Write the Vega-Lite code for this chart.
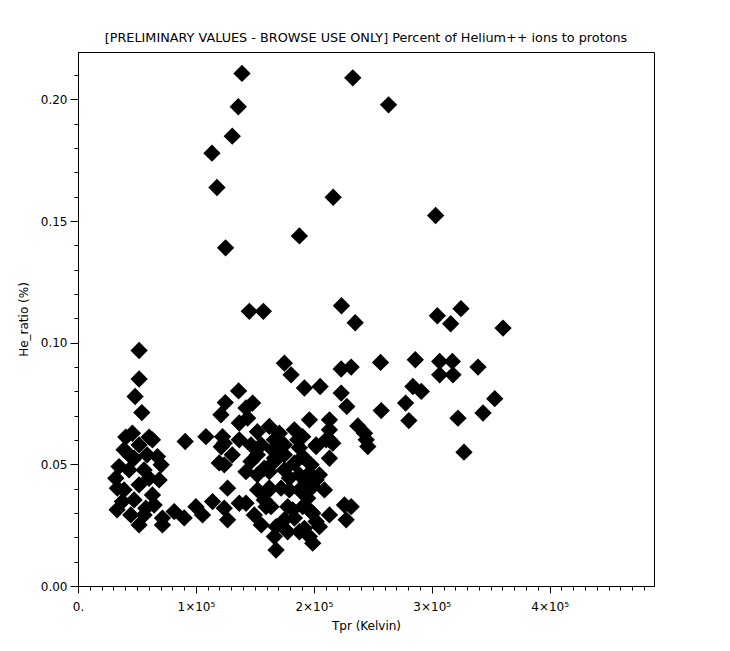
{
  "$schema": "https://vega.github.io/schema/vega-lite/v6.json",
  "width": 576,
  "height": 534,
  "autosize": {"type": "none"},
  "padding": {"left": 78, "top": 52, "right": 76, "bottom": 65},
  "background": "white",
  "config": {"view": {"stroke": "black", "strokeWidth": 1}, "font": "DejaVu Sans"},
  "title": {"text": "[PRELIMINARY VALUES - BROWSE USE ONLY] Percent of Helium++ ions to protons", "fontSize": 12.8, "fontWeight": "normal", "color": "black", "font": "DejaVu Sans", "anchor": "middle", "offset": 7},
  "data": {"values": [
    {"Tpr":139080,"He_ratio":0.2107},{"Tpr":233050,"He_ratio":0.2089},{"Tpr":135940,"He_ratio":0.1970},{"Tpr":263380,"He_ratio":0.1978},
    {"Tpr":130840,"He_ratio":0.1849},{"Tpr":113590,"He_ratio":0.1779},{"Tpr":117840,"He_ratio":0.1638},{"Tpr":216390,"He_ratio":0.1598},
    {"Tpr":187760,"He_ratio":0.1439},{"Tpr":125150,"He_ratio":0.1390},{"Tpr":303310,"He_ratio":0.1523},{"Tpr":145280,"He_ratio":0.1129},
    {"Tpr":157180,"He_ratio":0.1129},{"Tpr":223440,"He_ratio":0.1152},{"Tpr":235080,"He_ratio":0.1082},{"Tpr":304750,"He_ratio":0.1111},
    {"Tpr":324810,"He_ratio":0.1140},{"Tpr":316050,"He_ratio":0.1078},{"Tpr":360490,"He_ratio":0.1060},{"Tpr":51830,"He_ratio":0.0968},
    {"Tpr":51830,"He_ratio":0.0851},{"Tpr":48430,"He_ratio":0.0779},{"Tpr":54120,"He_ratio":0.0713},{"Tpr":175020,"He_ratio":0.0916},
    {"Tpr":180710,"He_ratio":0.0868},{"Tpr":192010,"He_ratio":0.0814},{"Tpr":205350,"He_ratio":0.0820},{"Tpr":223190,"He_ratio":0.0892},
    {"Tpr":231690,"He_ratio":0.0900},{"Tpr":256580,"He_ratio":0.0919},{"Tpr":286060,"He_ratio":0.0930},{"Tpr":306710,"He_ratio":0.0923},
    {"Tpr":317500,"He_ratio":0.0923},{"Tpr":306710,"He_ratio":0.0868},{"Tpr":318010,"He_ratio":0.0868},{"Tpr":339240,"He_ratio":0.0900},
    {"Tpr":284020,"He_ratio":0.0820},{"Tpr":291160,"He_ratio":0.0800},{"Tpr":223190,"He_ratio":0.0793},{"Tpr":227950,"He_ratio":0.0738},
    {"Tpr":257170,"He_ratio":0.0721},{"Tpr":277820,"He_ratio":0.0752},{"Tpr":280620,"He_ratio":0.0680},{"Tpr":322250,"He_ratio":0.0690},
    {"Tpr":343490,"He_ratio":0.0711},{"Tpr":353430,"He_ratio":0.0770},{"Tpr":327350,"He_ratio":0.0550},{"Tpr":136190,"He_ratio":0.0802},
    {"Tpr":148080,"He_ratio":0.0752},{"Tpr":124890,"He_ratio":0.0754},{"Tpr":121240,"He_ratio":0.0704},{"Tpr":142480,"He_ratio":0.0732},
    {"Tpr":136790,"He_ratio":0.0670},{"Tpr":143840,"He_ratio":0.0690},{"Tpr":162270,"He_ratio":0.0656},{"Tpr":196260,"He_ratio":0.0683},
    {"Tpr":213250,"He_ratio":0.0683},{"Tpr":213250,"He_ratio":0.0642},{"Tpr":210450,"He_ratio":0.0601},{"Tpr":216060,"He_ratio":0.0587},
    {"Tpr":201950,"He_ratio":0.0573},{"Tpr":213250,"He_ratio":0.0525},{"Tpr":237300,"He_ratio":0.0658},{"Tpr":242990,"He_ratio":0.0628},
    {"Tpr":244430,"He_ratio":0.0601},{"Tpr":245790,"He_ratio":0.0573},{"Tpr":183510,"He_ratio":0.0642},{"Tpr":190560,"He_ratio":0.0614},
    {"Tpr":170770,"He_ratio":0.0628},{"Tpr":166520,"He_ratio":0.0601},{"Tpr":165080,"He_ratio":0.0560},{"Tpr":166520,"He_ratio":0.0525},
    {"Tpr":190560,"He_ratio":0.0532},{"Tpr":196260,"He_ratio":0.0464},{"Tpr":201950,"He_ratio":0.0436},{"Tpr":199060,"He_ratio":0.0409},
    {"Tpr":172220,"He_ratio":0.0402},{"Tpr":162270,"He_ratio":0.0470},{"Tpr":225990,"He_ratio":0.0333},{"Tpr":231690,"He_ratio":0.0326},
    {"Tpr":227440,"He_ratio":0.0272},{"Tpr":213250,"He_ratio":0.0292},{"Tpr":182070,"He_ratio":0.0313},{"Tpr":190560,"He_ratio":0.0326},
    {"Tpr":199060,"He_ratio":0.0299},{"Tpr":204750,"He_ratio":0.0244},{"Tpr":167970,"He_ratio":0.0244},{"Tpr":163720,"He_ratio":0.0326},
    {"Tpr":196260,"He_ratio":0.0203},{"Tpr":199060,"He_ratio":0.0176},{"Tpr":167970,"He_ratio":0.0148},{"Tpr":166520,"He_ratio":0.0203},
    {"Tpr":177820,"He_ratio":0.0223},{"Tpr":187760,"He_ratio":0.0223},{"Tpr":183510,"He_ratio":0.0279},{"Tpr":192010,"He_ratio":0.0237},
    {"Tpr":201950,"He_ratio":0.0265},{"Tpr":149530,"He_ratio":0.0292},{"Tpr":159470,"He_ratio":0.0326},{"Tpr":142480,"He_ratio":0.0340},
    {"Tpr":177820,"He_ratio":0.0326},{"Tpr":194810,"He_ratio":0.0361},{"Tpr":197700,"He_ratio":0.0306},{"Tpr":152330,"He_ratio":0.0395},
    {"Tpr":146730,"He_ratio":0.0512},{"Tpr":158030,"He_ratio":0.0484},{"Tpr":166520,"He_ratio":0.0512},{"Tpr":183510,"He_ratio":0.0505},
    {"Tpr":197700,"He_ratio":0.0498},{"Tpr":193450,"He_ratio":0.0429},{"Tpr":146730,"He_ratio":0.0580},{"Tpr":186320,"He_ratio":0.0601},
    {"Tpr":201950,"He_ratio":0.0580},{"Tpr":213250,"He_ratio":0.0601},{"Tpr":46130,"He_ratio":0.0628},{"Tpr":60320,"He_ratio":0.0612},
    {"Tpr":40530,"He_ratio":0.0612},{"Tpr":90910,"He_ratio":0.0594},{"Tpr":108490,"He_ratio":0.0614},{"Tpr":122600,"He_ratio":0.0614},
    {"Tpr":63130,"He_ratio":0.0601},{"Tpr":124040,"He_ratio":0.0587},{"Tpr":124040,"He_ratio":0.0498},{"Tpr":67370,"He_ratio":0.0532},
    {"Tpr":47580,"He_ratio":0.0525},{"Tpr":34830,"He_ratio":0.0491},{"Tpr":32030,"He_ratio":0.0443},{"Tpr":33390,"He_ratio":0.0402},
    {"Tpr":60320,"He_ratio":0.0443},{"Tpr":63130,"He_ratio":0.0374},{"Tpr":37640,"He_ratio":0.0347},{"Tpr":44770,"He_ratio":0.0292},
    {"Tpr":57520,"He_ratio":0.0320},{"Tpr":71620,"He_ratio":0.0279},{"Tpr":81560,"He_ratio":0.0306},{"Tpr":71620,"He_ratio":0.0251},
    {"Tpr":126850,"He_ratio":0.0402},{"Tpr":100000,"He_ratio":0.0326},{"Tpr":105610,"He_ratio":0.0292},{"Tpr":114100,"He_ratio":0.0347},
    {"Tpr":124040,"He_ratio":0.0320},{"Tpr":126850,"He_ratio":0.0272},{"Tpr":136790,"He_ratio":0.0340},{"Tpr":142480,"He_ratio":0.0470},
    {"Tpr":39080,"He_ratio":0.0560},{"Tpr":51830,"He_ratio":0.0580},{"Tpr":43330,"He_ratio":0.0477},{"Tpr":51830,"He_ratio":0.0416},
    {"Tpr":39080,"He_ratio":0.0395},{"Tpr":56070,"He_ratio":0.0477},{"Tpr":68820,"He_ratio":0.0436},{"Tpr":47580,"He_ratio":0.0354},
    {"Tpr":56070,"He_ratio":0.0292},{"Tpr":33140,"He_ratio":0.0313},{"Tpr":64570,"He_ratio":0.0333},{"Tpr":51830,"He_ratio":0.0251},
    {"Tpr":58620,"He_ratio":0.0539},{"Tpr":43330,"He_ratio":0.0539},{"Tpr":70520,"He_ratio":0.0498},{"Tpr":90060,"He_ratio":0.0280},
    {"Tpr":121490,"He_ratio":0.0572},{"Tpr":130840,"He_ratio":0.0539},{"Tpr":119790,"He_ratio":0.0506},{"Tpr":136790,"He_ratio":0.0601},
    {"Tpr":152080,"He_ratio":0.0634},{"Tpr":155480,"He_ratio":0.0580},{"Tpr":152080,"He_ratio":0.0457},{"Tpr":175020,"He_ratio":0.0477},
    {"Tpr":179270,"He_ratio":0.0395},{"Tpr":160570,"He_ratio":0.0387},{"Tpr":187760,"He_ratio":0.0457},{"Tpr":175020,"He_ratio":0.0539},
    {"Tpr":152080,"He_ratio":0.0539},{"Tpr":175020,"He_ratio":0.0580},{"Tpr":187760,"He_ratio":0.0568},{"Tpr":204750,"He_ratio":0.0457},
    {"Tpr":209000,"He_ratio":0.0395},{"Tpr":179270,"He_ratio":0.0444},{"Tpr":158030,"He_ratio":0.0354},{"Tpr":187760,"He_ratio":0.0395},
    {"Tpr":175020,"He_ratio":0.0272},{"Tpr":155480,"He_ratio":0.0251},{"Tpr":162270,"He_ratio":0.0403}
  ]},
  "mark": {"type": "point", "shape": "diamond", "filled": true, "size": 300, "color": "black", "opacity": 1, "strokeWidth": 0},
  "encoding": {
    "x": {"field": "Tpr", "type": "quantitative",
      "scale": {"domain": [0, 488500], "nice": false, "zero": false},
      "axis": {"title": "Tpr (Kelvin)", "titleFontSize": 12, "titleFontWeight": "normal", "titleColor": "black", "titlePadding": 8,
        "values": [0,10000,20000,30000,40000,50000,60000,70000,80000,90000,100000,110000,120000,130000,140000,150000,160000,170000,180000,190000,200000,210000,220000,230000,240000,250000,260000,270000,280000,290000,300000,310000,320000,330000,340000,350000,360000,370000,380000,390000,400000,410000,420000,430000,440000,450000,460000,470000,480000],
        "labelExpr": "datum.value % 100000 === 0 ? (datum.value === 0 ? '0.' : (datum.value / 100000) + '×10⁵') : ''",
        "labelFlush": false, "labelOverlap": false, "grid": false,
        "domainColor": "black", "tickColor": "black", "labelColor": "black", "labelFontSize": 12, "labelPadding": 8,
        "tickSize": {"condition": {"test": "datum.value % 100000 === 0", "value": 7}, "value": 4}}},
    "y": {"field": "He_ratio", "type": "quantitative",
      "scale": {"domain": [0, 0.2195], "nice": false, "zero": false},
      "axis": {"title": "He_ratio (%)", "titleFontSize": 12, "titleFontWeight": "normal", "titleColor": "black", "titlePadding": 10,
        "values": [0,0.01,0.02,0.03,0.04,0.05,0.06,0.07,0.08,0.09,0.1,0.11,0.12,0.13,0.14,0.15,0.16,0.17,0.18,0.19,0.2,0.21],
        "labelExpr": "abs(datum.value * 20 - round(datum.value * 20)) < 0.000001 ? format(datum.value, '.2f') : ''",
        "labelOverlap": false, "labelFlush": false, "grid": false,
        "domainColor": "black", "tickColor": "black", "labelColor": "black", "labelFontSize": 12, "labelPadding": 3,
        "tickSize": {"condition": {"test": "abs(datum.value * 20 - round(datum.value * 20)) < 0.000001", "value": 8}, "value": 4}}}
  }
}
